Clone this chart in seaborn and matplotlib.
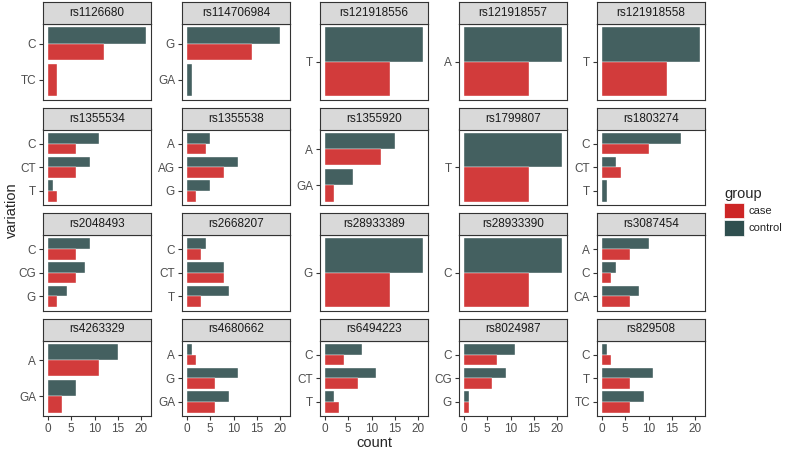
import pandas as pd
import matplotlib
matplotlib.use("Agg")
import matplotlib.pyplot as plt
from matplotlib.patches import Patch
import seaborn as sns

############# Data #############

snps = ["rs1126680", "rs114706984", "rs121918556", "rs121918557", "rs121918558",
        "rs1355534", "rs1355538", "rs1355920", "rs1799807", "rs1803274",
        "rs2048493", "rs2668207", "rs28933389", "rs28933390", "rs3087454",
        "rs4263329", "rs4680662", "rs6494223", "rs8024987", "rs829508"]

variations = [["C", "TC"], ["G", "GA"], ["T"], ["A"], ["T"],
              ["C", "CT", "T"], ["A", "AG", "G"], ["A", "GA"], ["T"], ["C", "CT", "T"],
              ["C", "CG", "G"], ["C", "CT", "T"], ["G"], ["C"], ["A", "C", "CA"],
              ["A", "GA"], ["A", "G", "GA"], ["C", "CT", "T"], ["C", "CG", "G"], ["C", "T", "TC"]]

# None = genotype not observed in that group
control = [[21, None], [20, 1], [21], [21], [21],
           [11, 9, 1], [5, 11, 5], [15, 6], [21], [17, 3, 1],
           [9, 8, 4], [4, 8, 9], [21], [21], [10, 3, 8],
           [15, 6], [1, 11, 9], [8, 11, 2], [11, 9, 1], [1, 11, 9]]

case = [[12, 2], [14, None], [14], [14], [14],
        [6, 6, 2], [4, 8, 2], [12, 2], [14], [10, 4, None],
        [6, 6, 2], [3, 8, 3], [14], [14], [6, 2, 6],
        [11, 3], [2, 6, 6], [4, 7, 3], [7, 6, 1], [2, 6, 6]]

groups = ["control", "case"]
colors = {"case": "#CD2626", "control": "#2F4F4F"}

# Long table
rows = []
for snp, var_list, ctrl_list, case_list in zip(snps, variations, control, case):
    for v, c1, c2 in zip(var_list, ctrl_list, case_list):
        if c1 is not None:
            rows.append({"snp": snp, "variation": v, "group": "control", "count": c1})
        if c2 is not None:
            rows.append({"snp": snp, "variation": v, "group": "case", "count": c2})
frame = pd.DataFrame(rows)

############# Plot #############

sns.set_style("white")
plt.rcParams["font.family"] = ["Liberation Sans", "DejaVu Sans"]

W, H = 788, 450
fig = plt.figure(figsize=(W / 100, H / 100), dpi=100)

col_left = [43, 182, 320, 459, 597]
panel_w = 108
row_top = [24, 129.5, 235, 340.5]
panel_h = 75.5
strip_h = 22
border = "#333333"

for i, snp in enumerate(snps):
    r, c = divmod(i, 5)
    left = col_left[c] / W
    bottom = 1 - (row_top[r] + panel_h) / H
    ax = fig.add_axes([left, bottom, panel_w / W, panel_h / H])
    sub = frame[frame["snp"] == snp]
    cats = variations[i]
    n_in = sub.groupby("variation")["group"].transform("count")
    both = sub[n_in == 2]
    single = sub[n_in == 1]
    common = dict(x="count", y="variation", hue="group", order=cats, hue_order=groups,
                  palette=colors, saturation=1, width=0.9, errorbar=None, alpha=0.9,
                  orient="y", edgecolor="white", linewidth=0.3, legend=False, ax=ax)
    if len(both):
        sns.barplot(data=both, dodge=True, **common)
    if len(single):
        sns.barplot(data=single, dodge=False, **common)

    n = len(cats)
    pad = 0.45 + 0.05 * (n - 0.1)
    ax.set_ylim(n - 1 + pad, -pad)
    ax.set_xlim(-1.05, 22.05)
    ax.set_xlabel("")
    ax.set_ylabel("")
    ax.set_xticks([0, 5, 10, 15, 20])
    for s in ax.spines.values():
        s.set_visible(True)
        s.set_color(border)
        s.set_linewidth(0.8)
    ax.tick_params(axis="both", length=3, width=0.8, color=border,
                   labelcolor="#4D4D4D", labelsize=8.5, pad=2, left=True, bottom=(r == 3))
    if r != 3:
        ax.set_xticklabels([])
        ax.tick_params(axis="x", bottom=False)

    # facet strip
    sax = fig.add_axes([left, 1 - row_top[r] / H, panel_w / W, strip_h / H])
    sax.set_facecolor("#D9D9D9")
    sax.set_xticks([])
    sax.set_yticks([])
    for s in sax.spines.values():
        s.set_color(border)
        s.set_linewidth(0.8)
    sax.text(0.5, 0.5, snp, ha="center", va="center", fontsize=8.5, color="#1A1A1A",
             transform=sax.transAxes)

fig.text(374 / W, 1 - 443 / H, "count", ha="center", va="center", fontsize=10.5)
fig.text(12 / W, 1 - 210 / H, "variation", ha="center", va="center", rotation=90, fontsize=10.5)

handles = [Patch(facecolor=colors[g], edgecolor="white", linewidth=0.5) for g in ["case", "control"]]
fig.legend(handles, ["case", "control"], title="group", loc="upper left",
           bbox_to_anchor=(720 / W, 1 - 183 / H), frameon=False, fontsize=8,
           title_fontsize=10.5, handlelength=1.8, handleheight=1.75, handletextpad=0.4,
           labelspacing=0.15, alignment="left", borderaxespad=0)

fig.savefig("out.png", dpi=100)
